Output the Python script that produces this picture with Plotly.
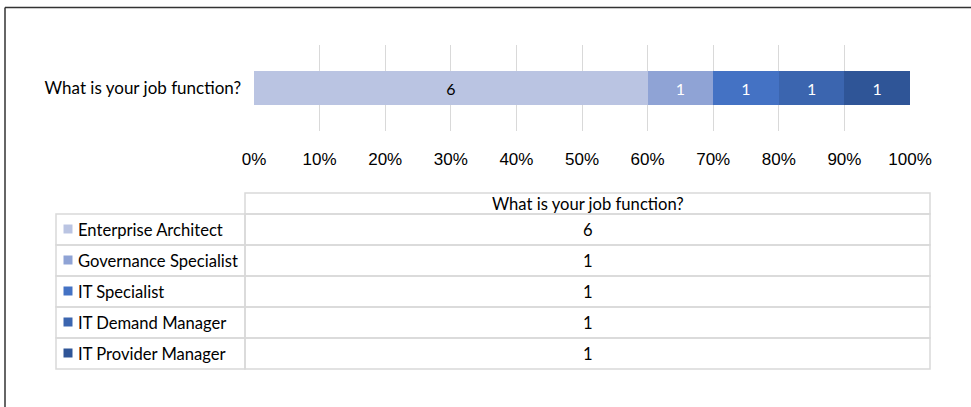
import plotly.graph_objects as go

W, H = 971, 407

categories = ["What is your job function?"]
series_names = ["Enterprise Architect", "Governance Specialist", "IT Specialist",
                "IT Demand Manager", "IT Provider Manager"]
series_values = [6, 1, 1, 1, 1]
tick_values = [0, 10, 20, 30, 40, 50, 60, 70, 80, 90, 100]
tick_labels = ["0%", "10%", "20%", "30%", "40%", "50%", "60%", "70%", "80%", "90%", "100%"]
table_header = "What is your job function?"

colors = ["#BAC4E2", "#8FA3D5", "#4472C4", "#3B65AF", "#2F5597"]
text_colors = ["#000000", "#FFFFFF", "#FFFFFF", "#FFFFFF", "#FFFFFF"]

CAL = "Lato, 'Open Sans', sans-serif"
ARI = "'Liberation Sans', Arial, sans-serif"


def px(x):
    return x / W


def py(y):
    return 1 - y / H


fig = go.Figure()
for name, val, c, tc in zip(series_names, series_values, colors, text_colors):
    fig.add_trace(go.Bar(
        y=categories, x=[val], name=name, orientation="h",
        marker=dict(color=c, line=dict(width=0)),
        text=[str(val)], textposition="inside", insidetextanchor="middle",
        textfont=dict(color=tc, size=16, family=CAL),
        width=0.4, hoverinfo="name+x",
    ))

x_left, x_sep, x_right = 56, 245, 930
y_head_top, y_head_bot = 193, 214
row_h = 31
line_c = "#D9D9D9"
shapes = []
annotations = []

shapes.append(dict(type="rect", xref="paper", yref="paper",
                   x0=px(x_sep), x1=px(x_right), y0=py(y_head_bot), y1=py(y_head_top),
                   line=dict(color=line_c, width=1.5), fillcolor="rgba(0,0,0,0)"))
annotations.append(dict(xref="paper", yref="paper", x=px((x_sep + x_right) / 2),
                        y=py((y_head_top + y_head_bot) / 2), text=table_header,
                        showarrow=False, xanchor="center", yanchor="middle",
                        font=dict(family=CAL, size=16.6, color="#000")))

for i, (name, val, c) in enumerate(zip(series_names, series_values, colors)):
    y0 = y_head_bot + i * row_h
    y1 = y0 + row_h
    yc = (y0 + y1) / 2
    for xa, xb in [(x_left, x_sep), (x_sep, x_right)]:
        shapes.append(dict(type="rect", xref="paper", yref="paper",
                           x0=px(xa), x1=px(xb), y0=py(y1), y1=py(y0),
                           line=dict(color=line_c, width=1.5), fillcolor="rgba(0,0,0,0)"))
    shapes.append(dict(type="rect", xref="paper", yref="paper",
                       x0=px(63.5), x1=px(72.5), y0=py(yc + 4), y1=py(yc - 5),
                       line=dict(width=0), fillcolor=c))
    annotations.append(dict(xref="paper", yref="paper", x=px(76), y=py(yc),
                            text=name, showarrow=False, xanchor="left", yanchor="middle",
                            font=dict(family=CAL, size=16.6, color="#000")))
    annotations.append(dict(xref="paper", yref="paper", x=px((x_sep + x_right) / 2),
                            y=py(yc), text=str(val), showarrow=False,
                            xanchor="center", yanchor="middle",
                            font=dict(family=CAL, size=16.6, color="#000")))

shapes.append(dict(type="line", xref="paper", yref="paper",
                   x0=px(5), x1=1.0, y0=py(7.5), y1=py(7.5),
                   line=dict(color="#333333", width=1.5)))
shapes.append(dict(type="line", xref="paper", yref="paper",
                   x0=px(5), x1=px(5), y0=py(7.5), y1=0.0,
                   line=dict(color="#333333", width=1.5)))

fig.update_layout(
    width=W, height=H, autosize=False,
    margin=dict(l=0, r=0, t=0, b=0, pad=0, autoexpand=False),
    paper_bgcolor="white", plot_bgcolor="white",
    barmode="stack", barnorm="percent",
    showlegend=False,
    xaxis=dict(domain=[px(254), px(910)], range=[0, 100],
               tickvals=tick_values, ticktext=tick_labels,
               showgrid=True, gridcolor=line_c, gridwidth=1.2,
               zeroline=False, showline=False, ticks="",
               ticklabelstandoff=16, automargin=False,
               tickfont=dict(family=ARI, size=17, color="#000"),
               fixedrange=True),
    yaxis=dict(domain=[py(131), py(45)], range=[-0.5, 0.5],
               showgrid=False, zeroline=False, showline=False, ticks="",
               ticklabelstandoff=12, automargin=False,
               tickfont=dict(family=CAL, size=17, color="#000"),
               fixedrange=True),
    shapes=shapes,
    annotations=annotations,
)

fig.write_html(
    "out.html",
    config={"responsive": False, "displayModeBar": False},
    post_script="document.body.style.margin='0';document.body.style.overflow='hidden';",
)
